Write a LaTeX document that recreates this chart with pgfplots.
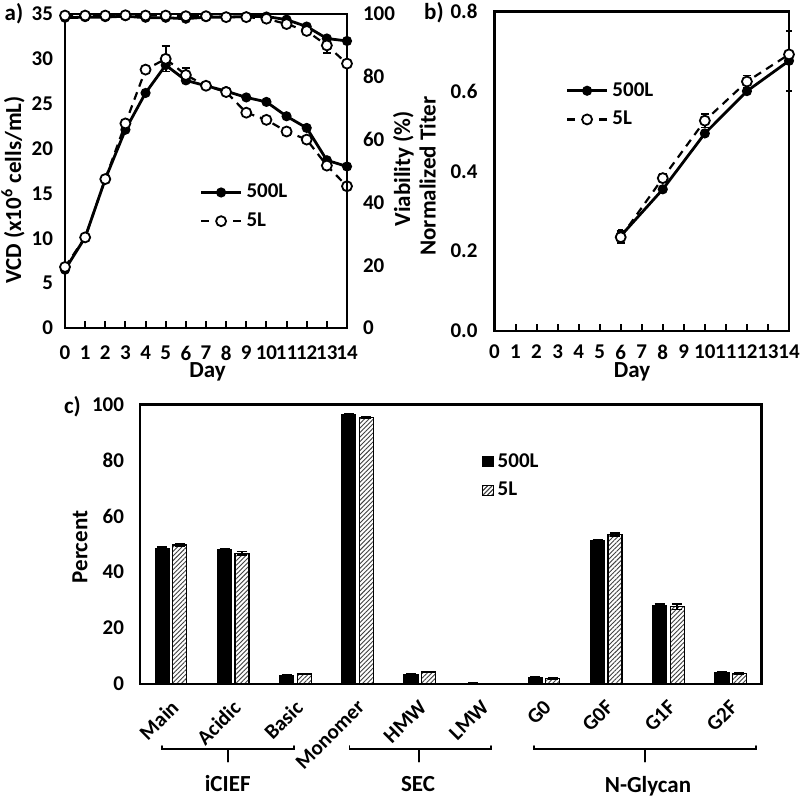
\documentclass[border=0pt]{standalone}
\usepackage{pgfplots}
\pgfplotsset{compat=1.18}
\usepackage{pgfplotstable}
\usepackage{fontspec}
\setmainfont{Carlito}
\usetikzlibrary{patterns.meta}

\pgfplotstableread{
day vcdA vcdB eA eB viaA viaB evA evB
0 6.5 6.8 0 0 98.8 99.5 0 0
1 10.1 10.1 0 0 99.0 99.5 0 0
2 16.6 16.6 0 0 99.0 99.5 0 0
3 22.1 22.8 0 0 99.3 99.6 0 0
4 26.2 28.8 0 0 98.8 99.5 0 0
5 29.3 30.0 0.7 1.4 98.8 99.5 0 0
6 27.6 28.2 0 0.8 98.5 99.3 0 0
7 27.0 27.0 0 0 99.0 99.3 0 0
8 26.4 26.3 0 0 99.0 99.0 0 0
9 25.7 24.0 0 0 99.2 99.0 0 0
10 25.2 23.2 0 0 99.2 98.5 0 0
11 23.6 21.9 0 0 98.2 96.8 0 0
12 22.3 21.0 0 0 96.0 94.6 0 0
13 18.7 18.1 0 0 92.2 90.0 0 2.5
14 18.0 15.8 0 0 91.4 84.2 0 0
}\tabA

\pgfplotstableread{
day tA tB eA eB
6 0.238 0.235 0.015 0.015
8 0.355 0.383 0.008 0.010
10 0.495 0.527 0.008 0.017
12 0.601 0.625 0.008 0.015
14 0.677 0.693 0.075 0.010
}\tabB

\pgfplotstableread{
x vA vB eA eB
0 48.5 49.7 0.5 0.6
1 47.9 46.7 0.4 0.6
2 2.9 3.6 0.3 0.2
3 96.2 95.3 0.3 0.2
4 3.2 4.3 0.3 0.2
5 0.2 0.1 0.05 0.05
6 2.2 2.0 0.3 0.2
7 51.4 53.4 0.3 0.5
8 28.2 27.7 0.3 1.0
9 4.1 3.7 0.3 0.3
}\tabC

\pgfplotsset{
  every axis/.append style={
    font=\fontsize{10.5}{12}\selectfont\bfseries,
    /pgf/number format/assume math mode=true,
    scale only axis,
    axis line style={line width=1.4pt},
    clip=false,
  },
  lineA/.style={black, line width=1.4pt, mark=*, mark size=1.8pt, mark options={solid, fill=black}},
  lineB/.style={black, line width=1.1pt, dash pattern=on 4pt off 3pt, mark=*, mark size=2.5pt, mark options={solid, fill=white, draw=black, line width=0.9pt}},
  legA/.style={legend image code/.code={\draw[black, solid, line width=1.4pt] (0pt,0pt) -- (20pt,0pt); \fill[black] (10pt,0pt) circle (1.8pt);}},
  legB/.style={legend image code/.code={\draw[black, solid, line width=1.1pt] (0pt,0pt) -- (4pt,0pt) (16pt,0pt) -- (20pt,0pt); \draw[black, solid, fill=white, line width=0.9pt] (10pt,0pt) circle (2.5pt);}},
  ebar/.style={error bars/.cd, y dir=both, y explicit, error bar style={solid, line width=0.8pt}, error mark options={rotate=90, mark size=2pt, line width=0.8pt}},
  ebarS/.style={error bars/.cd, y dir=both, y explicit, error bar style={solid, line width=0.8pt}, error mark options={rotate=90, mark size=1.3pt, line width=0.8pt}},
}

\begin{document}
\begin{tikzpicture}
\path[use as bounding box] (0,0) rectangle (400pt,398.5pt);

% ---------- panel a ----------
\begin{axis}[
  at={(32.5pt,234.5pt)}, anchor=south west, width=141pt, height=157pt,
  xmin=0, xmax=14, ymin=0, ymax=35,
  xtick={0,...,14}, ytick={0,5,...,35},
  xtick pos=bottom, major tick length=3.5pt,
  xtick style={line width=1pt, black},
  ytick style={draw=none},
  xticklabel style={yshift=-5.5pt},
  yticklabel style={xshift=-2.5pt},
  legend style={draw=none, fill=none, at={(0.455,0.485)}, anchor=north west, row sep=2pt,
    legend cell align=left, font=\fontsize{10.5}{12}\selectfont\bfseries},
]
\addplot[lineA, legA, ebar] table[x=day, y=vcdA, y error=eA] {\tabA};
\addlegendentry{500L}
\addplot[lineB, legB, ebar] table[x=day, y=vcdB, y error=eB] {\tabA};
\addlegendentry{5L}
\end{axis}
\begin{axis}[
  at={(32.5pt,234.5pt)}, anchor=south west, width=141pt, height=157pt,
  xmin=0, xmax=14, ymin=0, ymax=100,
  axis x line=none, axis y line*=right,
  ytick={0,20,...,100}, ytick style={draw=none},
  yticklabel style={xshift=4.5pt},
]
\addplot[lineA] table[x=day, y=viaA] {\tabA};
\addplot[lineB, ebar] table[x=day, y=viaB, y error=evB] {\tabA};
\end{axis}

% ---------- panel b ----------
\begin{axis}[
  at={(247.25pt,233pt)}, anchor=south west, width=147.25pt, height=159.65pt,
  xmin=0, xmax=14, ymin=0, ymax=0.8,
  xtick={0,...,14}, ytick={0,0.2,...,0.8},
  xtick pos=bottom, major tick length=3.5pt,
  xtick style={line width=1pt, black},
  ytick style={draw=none},
  xticklabel style={yshift=-3.5pt},
  yticklabel style={xshift=-5pt, /pgf/number format/.cd, fixed, fixed zerofill, precision=1},
  legend style={draw=none, fill=none, at={(0.22,0.805)}, anchor=north west, row sep=2pt,
    legend cell align=left, font=\fontsize{10.5}{12}\selectfont\bfseries},
]
\addplot[lineA, legA, ebarS] table[x=day, y=tA, y error=eA] {\tabB};
\addlegendentry{500L}
\addplot[lineB, legB, ebar] table[x=day, y=tB, y error=eB] {\tabB};
\addlegendentry{5L}
\end{axis}

% ---------- panel c ----------
\begin{axis}[
  at={(70pt,56.5pt)}, anchor=south west, width=310.85pt, height=139.85pt,
  xmin=-0.5, xmax=9.5, ymin=0, ymax=100,
  ybar=1.7pt, bar width=7pt,
  xtick={0,...,9},
  xticklabels={Main,Acidic,Basic,Monomer,HMW,LMW,G0,G0F,G1F,G2F},
  xticklabel style={xshift=-0.8pt, yshift=-1.5pt, rotate=45, anchor=north east, inner sep=1pt},
  ytick={0,20,...,100},
  xtick style={draw=none}, ytick style={draw=none},
  yticklabel style={xshift=-4.5pt},
  legend style={draw=none, fill=none, at={(0.54,0.855)}, anchor=north west, row sep=2pt,
    legend cell align=left, font=\fontsize{10.5}{12}\selectfont\bfseries},
]
\addplot[fill=black, draw=black, line width=0.6pt,
  legend image code/.code={\fill[black] (0pt,-2.6pt) rectangle (5.2pt,2.6pt);},
  error bars/.cd, y dir=both, y explicit, error bar style={line width=0.8pt}, error mark options={rotate=90, mark size=2.5pt, line width=0.8pt}] table[x=x, y=vA, y error=eA] {\tabC};
\addlegendentry{500L}
\addplot[fill=white, draw=black, line width=0.6pt, postaction={pattern={Lines[angle=45, distance=1.6pt, line width=0.45pt]}, pattern color=black!75},
  legend image code/.code={\draw[black, line width=0.5pt, fill=white, postaction={pattern={Lines[angle=45, distance=1.6pt, line width=0.45pt]}, pattern color=black!75}] (0pt,-2.6pt) rectangle (5.2pt,2.6pt);},
  error bars/.cd, y dir=both, y explicit, error bar style={line width=0.8pt}, error mark options={rotate=90, mark size=2.5pt, line width=0.8pt}] table[x=x, y=vB, y error=eB] {\tabC};
\addlegendentry{5L}
\end{axis}

% ---------- labels ----------
\begin{scope}[font=\fontsize{11.5}{13}\selectfont\bfseries]
\node at (7pt,391.5pt) {a)};
\node at (217pt,392pt) {b)};
\node at (36.25pt,195.25pt) {c)};
\node[rotate=90] at (6.5pt,303.5pt) {VCD (x10\textsuperscript{6} cells/mL)};
\node[rotate=90] at (201.7pt,314pt) {Viability (\%)};
\node[rotate=90] at (213.8pt,310.5pt) {Normalized Titer};
\node at (103.75pt,212.5pt) {Day};
\node at (316pt,212.5pt) {Day};
\node[rotate=90] at (40pt,125pt) {Percent};
\node at (113.85pt,6.5pt) {iCIEF};
\node at (209pt,6.5pt) {SEC};
\node at (324pt,5.5pt) {N-Glycan};
\end{scope}
\begin{scope}[line width=0.8pt, line cap=round]
\draw (80.85pt,25.5pt) -- (80.85pt,24pt) -- (147pt,24pt) -- (147pt,25.5pt);
\draw (113.85pt,24pt) -- (113.85pt,17.6pt);
\draw (174.65pt,25.5pt) -- (174.65pt,24pt) -- (245.35pt,24pt) -- (245.35pt,25.5pt);
\draw (209.5pt,24pt) -- (209.5pt,17.6pt);
\draw (267pt,25.5pt) -- (267pt,24pt) -- (378pt,24pt) -- (378pt,25.5pt);
\draw (322.5pt,24pt) -- (322.5pt,17.6pt);
\end{scope}
\end{tikzpicture}
\end{document}
